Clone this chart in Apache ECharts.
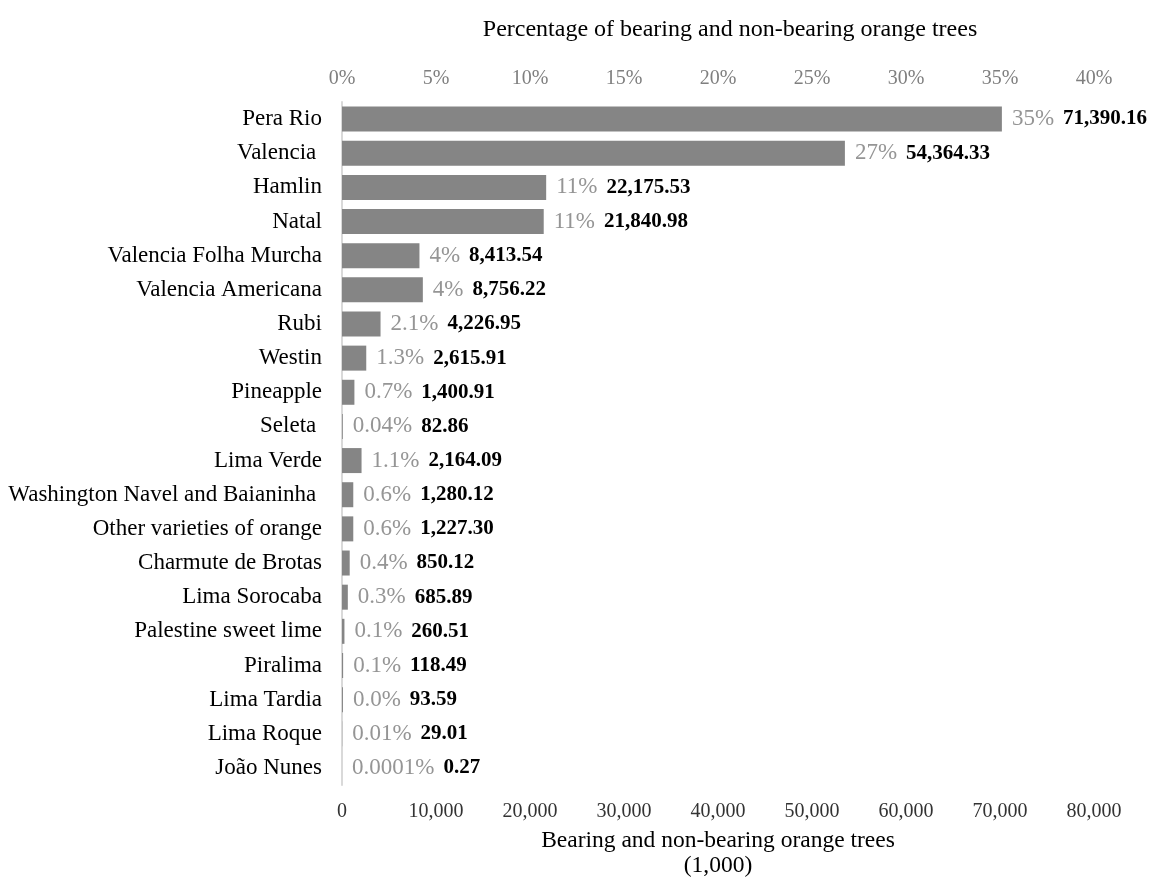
<!DOCTYPE html>
<html>
<head>
<meta charset="utf-8">
<script src="https://cdn.jsdelivr.net/npm/echarts@6/dist/echarts.min.js"></script>
<style>
  html, body { margin: 0; padding: 0; background: #fff; }
  #chart { width: 1168px; height: 878px; }
</style>
</head>
<body>
<div id="chart"></div>
<script>
// some names carry a trailing space, as in the source sheet
const varieties = [
  'Pera Rio', 'Valencia ', 'Hamlin', 'Natal', 'Valencia Folha Murcha',
  'Valencia Americana', 'Rubi', 'Westin', 'Pineapple', 'Seleta ',
  'Lima Verde', 'Washington Navel and Baianinha ', 'Other varieties of orange',
  'Charmute de Brotas', 'Lima Sorocaba', 'Palestine sweet lime', 'Piralima',
  'Lima Tardia', 'Lima Roque', 'João Nunes'
];
const sharePct = [
  35.1, 26.75, 10.86, 10.73, 4.12,
  4.3, 2.05, 1.29, 0.66, 0.04,
  1.04, 0.6, 0.6, 0.41, 0.31,
  0.13, 0.06, 0.05, 0.01, 0.0001
];
// percentage labels as printed
const shareText = [
  '35%', '27%', '11%', '11%', '4%',
  '4%', '2.1%', '1.3%', '0.7%', '0.04%',
  '1.1%', '0.6%', '0.6%', '0.4%', '0.3%',
  '0.1%', '0.1%', '0.0%', '0.01%', '0.0001%'
];
// bearing and non-bearing trees (1,000)
const trees = [
  71390.16, 54364.33, 22175.53, 21840.98, 8413.54,
  8756.22, 4226.95, 2615.91, 1400.91, 82.86,
  2164.09, 1280.12, 1227.30, 850.12, 685.89,
  260.51, 118.49, 93.59, 29.01, 0.27
];

const serif = "'Liberation Serif', 'Times New Roman', serif";
const fmt = (v, d) => v.toLocaleString('en-US', { minimumFractionDigits: d, maximumFractionDigits: d });

const chart = echarts.init(document.getElementById('chart'));

chart.setOption({
  animation: false,
  textStyle: { fontFamily: serif },
  grid: { left: 342, right: 74, top: 102, bottom: 93, outerBoundsMode: 'none' },
  graphic: [
    {
      type: 'text',
      x: 730,
      y: 30,
      style: {
        text: 'Percentage of bearing and non-bearing orange trees',
        align: 'center',
        verticalAlign: 'middle',
        fill: '#000',
        fontSize: 24,
        fontFamily: serif
      }
    }
  ],
  yAxis: {
    type: 'category',
    data: varieties,
    inverse: true,
    axisLine: { lineStyle: { color: '#d9d9d9', width: 2 } },
    axisTick: { show: false },
    axisLabel: { color: '#000', fontSize: 23, margin: 20, fontFamily: serif }
  },
  xAxis: [
    {
      type: 'value',
      position: 'bottom',
      min: 0,
      max: 80000,
      interval: 10000,
      splitLine: { show: false },
      axisLine: { show: false },
      axisTick: { show: false },
      axisLabel: {
        color: '#333',
        fontSize: 20,
        margin: 17,
        fontFamily: serif,
        formatter: (v) => fmt(v, 0)
      },
      name: 'Bearing and non-bearing orange trees\n(1,000)',
      nameLocation: 'middle',
      nameGap: 43,
      nameTextStyle: { color: '#000', fontSize: 23.5, lineHeight: 25, fontFamily: serif }
    },
    {
      type: 'value',
      position: 'top',
      min: 0,
      max: 40,
      interval: 5,
      splitLine: { show: false },
      axisLine: { show: false },
      axisTick: { show: false },
      axisLabel: {
        color: '#7f7f7f',
        fontSize: 20,
        margin: 13,
        fontFamily: serif,
        formatter: '{value}%'
      }
    }
  ],
  series: [
    {
      type: 'bar',
      xAxisIndex: 1,
      data: sharePct,
      barWidth: 25,
      itemStyle: { color: '#858585' },
      label: {
        show: true,
        position: 'right',
        distance: 10,
        formatter: (p) => '{p|' + shareText[p.dataIndex] + '} {v|' + fmt(trees[p.dataIndex], 2) + '}',
        rich: {
          p: { color: '#959595', fontSize: 23, fontFamily: serif, padding: [0, 6, 0, 0] },
          v: { color: '#000', fontSize: 21, fontWeight: 'bold', fontFamily: serif }
        }
      }
    }
  ]
});
</script>
</body>
</html>
